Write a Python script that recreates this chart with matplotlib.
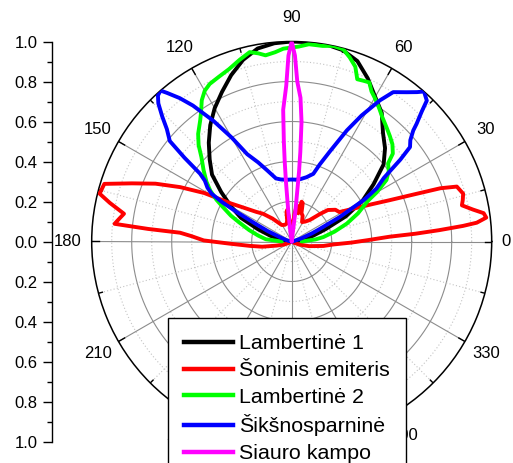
import numpy as np
import matplotlib
matplotlib.use("Agg")
import matplotlib.pyplot as plt
from matplotlib.lines import Line2D

plt.rcParams["font.family"] = ["Liberation Sans", "DejaVu Sans"]

# Emission patterns: angle in degrees, relative intensity
lamb1_deg = [0, 5, 10, 15, 20, 25, 30, 35, 40, 45, 50, 55, 60, 65, 70, 75, 80, 85, 90,
             95, 100, 105, 110, 115, 120, 125, 130, 135, 140, 145, 150, 155, 160, 165,
             170, 175, 180]
lamb1_val = [0.0, 0.02, 0.06, 0.11, 0.18, 0.30, 0.41, 0.50, 0.60, 0.66, 0.71, 0.785, 0.835,
             0.90, 0.96, 0.99, 1.0, 1.0, 1.0, 0.995, 0.98, 0.94, 0.885, 0.825, 0.77, 0.71,
             0.645, 0.58, 0.52, 0.43, 0.35, 0.28, 0.18, 0.11, 0.05, 0.02, 0.0]

side_deg = [-30, -22, -15, -8, -4, -1, 1, 2.8, 3.6, 4.4, 5.2, 5.8, 7, 8.4, 10, 12, 13.6,
            15.6, 18.4, 19.7, 21, 22.9, 25, 28, 31.7, 36, 41, 44, 50, 56, 62, 67, 71, 74,
            76, 77, 79, 82, 84, 86, 88, 90, 92, 95, 98, 100, 102, 105, 112, 121, 130, 136,
            140, 144, 148, 151, 154, 157, 160, 162.9, 166, 168, 170.6, 172.5, 174.3, 175,
            175.5, 177, 179.3, 182, 186, 190, 195, 202, 210]
side_val = [0.01, 0.04, 0.09, 0.16, 0.21, 0.30, 0.38, 0.49, 0.62, 0.74, 0.86, 0.93, 0.98,
            0.97, 0.92, 0.87, 0.88, 0.89, 0.87, 0.79, 0.66, 0.53, 0.44, 0.35, 0.28, 0.27,
            0.24, 0.20, 0.14, 0.12, 0.11, 0.14, 0.15, 0.20, 0.205, 0.145, 0.16, 0.184,
            0.14, 0.08, 0.04, 0.03, 0.05, 0.10, 0.16, 0.15, 0.11, 0.094, 0.09, 0.096, 0.15,
            0.20, 0.23, 0.28, 0.36, 0.50, 0.62, 0.74, 0.85, 0.98, 0.99, 0.93, 0.85, 0.87,
            0.89, 0.72, 0.56, 0.50, 0.44, 0.31, 0.21, 0.15, 0.08, 0.04, 0.01]

lamb2_deg = [0, 5, 8, 13, 18, 23, 28, 30, 33, 36, 39, 41, 44, 47, 50, 54, 57, 60, 62, 64,
             66, 68, 70, 72.5, 75, 78, 81, 85, 88, 90, 92.5, 95, 98, 100, 102.5, 106, 110,
             114, 117.5, 120, 122.5, 125, 127, 131, 134, 137, 141, 145, 148, 151, 153.5,
             157, 160, 165, 170, 175, 180]
lamb2_val = [0.05, 0.12, 0.16, 0.22, 0.29, 0.36, 0.43, 0.49, 0.565, 0.60, 0.62, 0.67, 0.70,
             0.72, 0.74, 0.77, 0.80, 0.83, 0.85, 0.885, 0.88, 0.875, 0.93, 0.965, 0.995,
             1.0, 0.99, 0.99, 0.975, 0.97, 0.965, 0.95, 0.94, 0.955, 0.97, 0.945, 0.917,
             0.90, 0.888, 0.87, 0.837, 0.79, 0.76, 0.713, 0.67, 0.617, 0.567, 0.52, 0.48,
             0.43, 0.383, 0.33, 0.28, 0.22, 0.17, 0.13, 0.05]

bat_deg = [0, 10, 18, 22, 24, 27, 30, 32, 34.6, 37, 38.6, 40.5, 42.4, 43.3, 45, 46.2, 48.6,
           50, 52.4, 55.8, 58, 61, 63.6, 67, 70, 72.3, 77, 82, 86, 90, 95, 100, 104, 109,
           113, 117, 120, 123, 126, 128, 130, 131, 132.5, 134, 136, 138, 140.5, 142, 143.5,
           145, 147.4, 149.2, 150.5, 152, 154, 156.5, 160, 165, 170, 180]
bat_val = [0.0, 0.01, 0.05, 0.11, 0.15, 0.27, 0.42, 0.50, 0.56, 0.68, 0.757, 0.78, 0.823,
           0.858, 0.92, 0.976, 1.0, 0.975, 0.942, 0.903, 0.832, 0.72, 0.62, 0.49, 0.41,
           0.355, 0.33, 0.315, 0.31, 0.31, 0.31, 0.315, 0.325, 0.376, 0.43, 0.49, 0.60,
           0.72, 0.84, 0.91, 0.97, 1.0, 0.99, 0.96, 0.90, 0.84, 0.79, 0.68, 0.57, 0.53,
           0.50, 0.466, 0.40, 0.30, 0.20, 0.13, 0.06, 0.03, 0.015, 0.0]

narrow_deg = [78, 83, 84, 84.5, 85.3, 86.5, 88, 89, 90, 91, 92, 93.7, 94.5, 95, 95.5, 96.5,
              98, 102]
narrow_val = [0.0, 0.15, 0.35, 0.45, 0.60, 0.72, 0.80, 0.93, 1.0, 0.93, 0.78, 0.66, 0.50,
              0.40, 0.30, 0.15, 0.05, 0.0]

series = [
    ("Lambertinė 1", lamb1_deg, lamb1_val, "#000000"),
    ("Šoninis emiteris", side_deg, side_val, "#ff0000"),
    ("Lambertinė 2", lamb2_deg, lamb2_val, "#00ff00"),
    ("Šikšnosparninė", bat_deg, bat_val, "#0000ff"),
    ("Siauro kampo", narrow_deg, narrow_val, "#ff00ff"),
]

angle_ticks = list(range(0, 360, 30))
r_ticks = [-1.0, -0.8, -0.6, -0.4, -0.2, 0.0, 0.2, 0.4, 0.6, 0.8, 1.0]

W, H = 513, 463
fig = plt.figure(figsize=(W / 100, H / 100), dpi=100)
cx, cy, R = 291.7, 241.5, 200.0

ax = fig.add_axes([(cx - R) / W, (H - cy - R) / H, 2 * R / W, 2 * R / H],
                  projection="polar")
ax.set_ylim(0, 1)
ax.set_xticks([])
ax.set_yticks([])
ax.grid(False)
ax.spines["polar"].set_linewidth(1.1)

# grid: solid major circles/spokes, dotted minor ones
full = np.linspace(0, 2 * np.pi, 721)
for r in [0.2, 0.4, 0.6, 0.8]:
    ax.plot(full, np.full_like(full, r), color="#8c8c8c", lw=0.8, zorder=1)
for r in [0.1, 0.3, 0.5, 0.7, 0.9]:
    ax.plot(full, np.full_like(full, r), color="#c4c4c4", lw=0.8, ls=(0, (1, 2)), zorder=1)
for a in range(0, 360, 30):
    t = np.deg2rad(a)
    ax.plot([t, t], [0, 1], color="#8c8c8c", lw=0.8, zorder=1)
    ax.plot([t, t], [0.965, 1.0], color="k", lw=1.0, zorder=2)
for a in range(15, 360, 30):
    t = np.deg2rad(a)
    ax.plot([t, t], [0, 1], color="#c4c4c4", lw=0.8, ls=(0, (1, 2)), zorder=1)
    ax.plot([t, t], [0.98, 1.0], color="k", lw=1.0, zorder=2)

for a in angle_ticks:
    rr = 1.07 if a == 0 else 1.12
    ax.text(np.deg2rad(a), rr, str(a), ha="center", va="center", fontsize=12,
            clip_on=False)

handles = []
for name, deg, val, col in series:
    ax.plot(np.deg2rad(deg), val, color=col, lw=2.8, solid_joinstyle="round",
            solid_capstyle="round", zorder=3)
    handles.append(Line2D([], [], color=col, lw=3.2))

# radial scale drawn as a separate vertical axis on the left
lax = fig.add_axes([51.7 / W, (H - cy - R) / H, 0.0001, 2 * R / H])
lax.set_ylim(-1, 1)
lax.set_yticks(r_ticks)
lax.set_yticks([-0.9, -0.7, -0.5, -0.3, -0.1, 0.1, 0.3, 0.5, 0.7, 0.9], minor=True)
lax.set_yticklabels([f"{abs(v):.1f}" for v in r_ticks])
lax.set_xticks([])
for s in ["right", "top", "bottom"]:
    lax.spines[s].set_visible(False)
lax.spines["left"].set_linewidth(1.0)
lax.patch.set_visible(False)
lax.tick_params(axis="y", which="major", length=6.3, width=1.0, pad=4, labelsize=12)
lax.tick_params(axis="y", which="minor", length=3.8, width=1.0)

leg = fig.legend(handles, [s[0] for s in series], loc="upper left",
                 bbox_to_anchor=(167.7 / W, 1 - 318.3 / H), frameon=True, fancybox=False,
                 edgecolor="k", framealpha=1, fontsize=15.4, handlelength=2.3,
                 handletextpad=0.3, labelspacing=0.36, borderpad=0.75, borderaxespad=0)
leg.get_frame().set_linewidth(1.0)

fig.savefig("out.png", dpi=100)
